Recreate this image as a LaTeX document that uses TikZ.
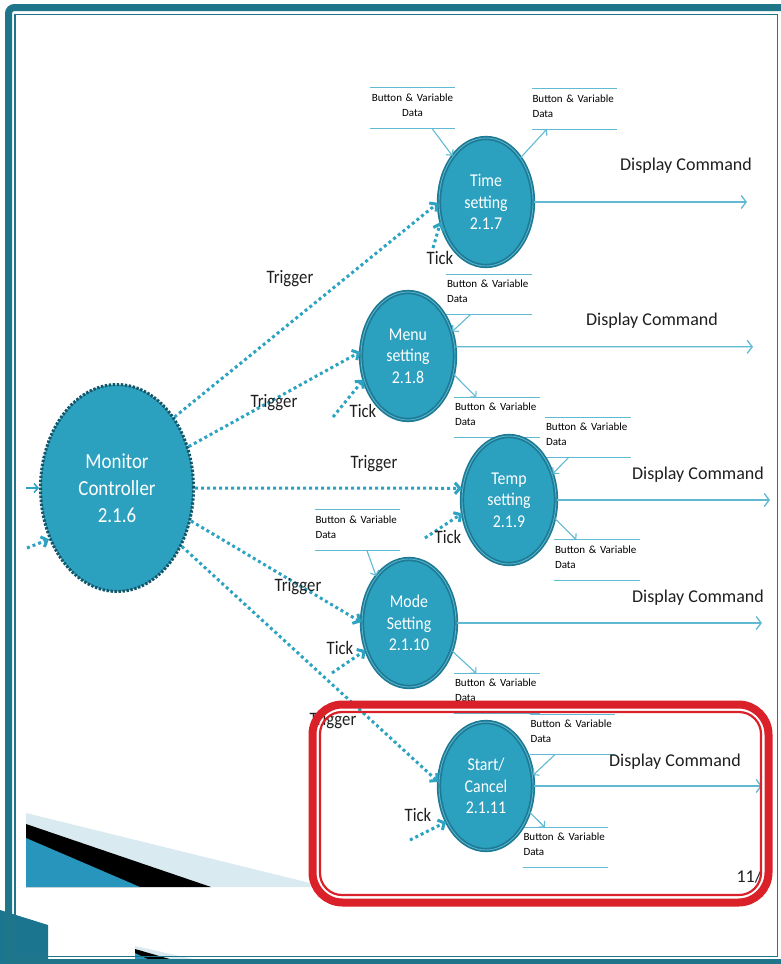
\documentclass[tikz,border=0pt]{standalone}
\usepackage{fontspec}
\setmainfont{Carlito}
\newfontfamily\condfont[FakeStretch=0.88]{Carlito}
\usetikzlibrary{arrows.meta, shapes.geometric}
\definecolor{procF}{RGB}{43,161,191}
\definecolor{procD}{RGB}{30,122,148}
\definecolor{procL}{RGB}{86,180,205}
\definecolor{dotC}{RGB}{45,163,194}
\definecolor{lineC}{RGB}{96,186,210}
\definecolor{frameC}{RGB}{31,117,137}
\definecolor{markR}{RGB}{218,32,40}
\definecolor{bandL}{RGB}{217,234,241}
\definecolor{bandB}{RGB}{40,150,188}
\definecolor{blockC}{RGB}{27,117,143}
\tikzset{
  proc/.style={ellipse, draw=procD, double=procL, line width=1.7pt, double distance=0.9pt,
    fill=procF, text=white, align=center, inner sep=0pt, minimum width=94pt, minimum height=128pt,
    font=\condfont\fontsize{18}{21.5}\selectfont},
  ctrl/.style={ellipse, draw=procD!70!black, line width=3pt, dash pattern=on 2.4pt off 1.6pt,
    fill=procF, text=white, align=center, inner sep=0pt, minimum width=153pt, minimum height=207pt,
    font=\condfont\fontsize{21.5}{27}\selectfont},
  store/.style={minimum width=85pt, minimum height=40pt, inner xsep=0.5pt, inner ysep=2pt,
    text width=84pt, text depth=21pt, font=\fontsize{11}{15}\selectfont},
  storeline/.style={draw=lineC, line width=1.3pt},
  trig/.style={draw=dotC, line width=3pt, dash pattern=on 3pt off 3pt,
    -{Straight Barb[length=5pt,width=11pt]}},
  flow/.style={draw=lineC, line width=1.1pt, -{Straight Barb[length=4pt,width=9pt]}},
  cmd/.style={draw=lineC, line width=1.3pt, -{Straight Barb[length=5pt,width=13pt]}},
  lab/.style={font=\condfont\fontsize{19}{22}\selectfont, text=black!88},
  cmdlab/.style={font=\fontsize{18}{22}\selectfont, text=black!88},
}
\newcommand{\bvstore}[3]{%
  \node[store, align=#3] (#1) at (#2) {Button \& Variable\\Data};
  \draw[storeline] (#1.north west) -- (#1.north east) (#1.south west) -- (#1.south east);}

\begin{document}
\begin{tikzpicture}[x=1pt, y=-1pt]
\useasboundingbox (0,0) rectangle (780,964);
\fill[white] (0,0) rectangle (780,964);
% slide decoration, bottom left
\fill[bandL] (26,813) -- (310,883) -- (310,887) -- (26,887) -- cycle;
\fill[black] (26,824) -- (211,887) -- (26,887) -- cycle;
\fill[bandB] (26,838) -- (140,887) -- (26,887) -- cycle;
\fill[blockC] (0,910) -- (48,925) -- (48,964) -- (0,964) -- cycle;
\fill[bandL] (135,946) -- (215,964) -- (135,964) -- cycle;
\fill[black] (135,949) -- (187,964) -- (135,964) -- cycle;
\fill[bandB] (135,953) -- (158,964) -- (135,964) -- cycle;
% frame
\draw[frameC, line width=7pt, rounded corners=6pt] (8.5,7.5) rectangle (790,962.5);
\draw[frameC, line width=1.5pt] (15,14.5) rectangle (777.5,956.5);
% data stores
\bvstore{bvA}{412.5,108}{center}
\bvstore{bvB}{574.5,109}{left}
\bvstore{bvC}{489,294.5}{left}
\bvstore{bvD}{497,417.5}{left}
\bvstore{bvE}{588,437.5}{left}
\bvstore{bvF}{597,560}{left}
\bvstore{bvG}{357.5,530}{left}
\bvstore{bvH}{497,693.5}{left}
\bvstore{bvI}{572.5,734.5}{left}
\bvstore{bvJ}{565.5,847.5}{left}
% processes
\node[ctrl] (mon) at (117,488) {Monitor\\Controller\\2.1.6};
\node[proc] (time) at (486,202) {Time\\setting\\2.1.7};
\node[proc] (menu) at (408,356) {Menu\\setting\\2.1.8};
\node[proc] (temp) at (509,500) {Temp\\setting\\2.1.9};
\node[proc] (mode) at (409,623) {Mode\\Setting\\2.1.10};
\node[proc] (start) at (486,786) {Start/\\Cancel\\2.1.11};
% data flows
\draw[flow] ([xshift=62pt]bvA.south west) -- (time.126);
\draw[flow] (time.52) -- ([xshift=15pt]bvB.south west);
\draw[flow] ([xshift=24pt]bvC.south west) -- (menu.29);
\draw[flow] (menu.-22) -- ([xshift=22pt]bvD.north west);
\draw[flow] ([xshift=23pt]bvE.south west) -- (temp.31);
\draw[flow] (temp.-22) -- ([xshift=22pt]bvF.north west);
\draw[flow] ([xshift=52pt]bvG.south west) -- (mode.125);
\draw[flow] (mode.-33) -- ([xshift=22pt]bvH.north west);
\draw[flow] ([xshift=25pt]bvI.south west) -- (start.13);
\draw[flow] (start.-31) -- ([xshift=22pt]bvJ.north west);
% display commands
\coordinate (endT) at (747,202);
\coordinate (endM) at (753,346.8);
\coordinate (endP) at (770,500);
\coordinate (endD) at (762,623);
\coordinate (endS) at (762,786);
\draw[cmd] (time.east) -- (endT);
\draw[cmd] (menu.11) -- (endM);
\draw[cmd] (temp.east) -- (endP);
\draw[cmd] (mode.east) -- (endD);
\draw[cmd] (start.east) -- (endS);
\node[cmdlab] (dcT) at (686,166) {Display Command};
\node[cmdlab] (dcM) at (652,321) {Display Command};
\node[cmdlab] (dcP) at (698,475) {Display Command};
\node[cmdlab] (dcD) at (698,598) {Display Command};
\node[cmdlab] (dcS) at (675,762) {Display Command};
% triggers
\draw[trig] (mon.51) -- (time.181);
\draw[trig] (mon.30) -- (menu.175);
\draw[trig] (mon.east) -- (temp.166);
\draw[trig] (mon.-24) -- (mode.179);
\draw[trig] (mon.-42) -- (start.175);
\node[lab] (tgT) at (290,279) {Trigger};
\node[lab] (tgM) at (274,403) {Trigger};
\node[lab] (tgP) at (374,464) {Trigger};
\node[lab] (tgD) at (298,587) {Trigger};
\node[lab] (tgS) at (333,721) {Trigger};
% ticks
\coordinate (tkT) at (433,248);
\coordinate (tkM) at (333,417);
\coordinate (tkP) at (425,538);
\coordinate (tkD) at (332,673);
\coordinate (tkS) at (410,840);
\draw[trig] (tkT) -- (time.204);
\draw[trig] (tkM) -- (menu.208);
\draw[trig] (tkP) -- (temp.196);
\draw[trig] (tkD) -- (mode.212);
\draw[trig] (tkS) -- (start.222);
\node[lab] (tiT) at (440,258) {Tick};
\node[lab] (tiM) at (363,411) {Tick};
\node[lab] (tiP) at (448,537) {Tick};
\node[lab] (tiD) at (340,648) {Tick};
\node[lab] (tiS) at (418,815) {Tick};
% inputs from the left
\coordinate (inA) at (26,488);
\coordinate (inB) at (27,548);
\draw[flow, draw=dotC, line width=1.5pt] (inA) -- (mon.west);
\draw[trig] (inB) -- (mon.217);
% highlight
\node[cmdlab, anchor=west] (pgno) at (733,877) {11/};
\draw[markR, line width=8pt, rounded corners=30pt] (312.5,704.5) rectangle (768.5,902.5);
\draw[markR, line width=2.2pt, rounded corners=22pt] (320,712) rectangle (761,895);
\end{tikzpicture}
\end{document}
